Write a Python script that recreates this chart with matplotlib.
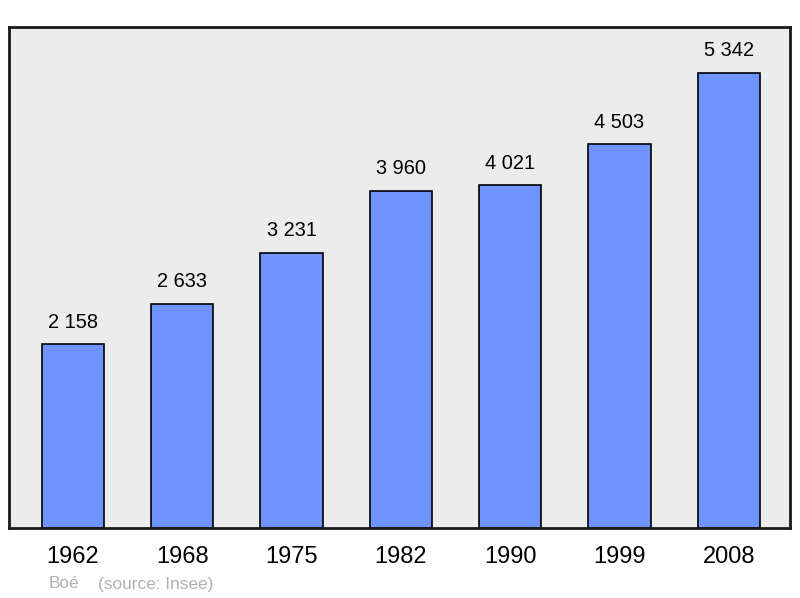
import matplotlib
matplotlib.use('Agg')
import matplotlib.pyplot as plt

years = ['1962', '1968', '1975', '1982', '1990', '1999', '2008']
population = [2158, 2633, 3231, 3960, 4021, 4503, 5342]
labels = ['2 158', '2 633', '3 231', '3 960', '4 021', '4 503', '5 342']

plt.rcParams['font.family'] = ['Liberation Sans', 'DejaVu Sans']

fig = plt.figure(figsize=(8, 5.98), dpi=100)
ax = fig.add_axes([0.01125, 0.117, 0.97625, 0.8378])
ax.set_facecolor('#ececec')

x = list(range(len(years)))
ax.bar(x, population, width=0.57, color='#7094ff', edgecolor='black', linewidth=1.2, zorder=2)
for xi, v, lab in zip(x, population, labels):
    ax.annotate(lab, (xi, v), xytext=(0, 9), textcoords='offset points',
                ha='center', va='bottom', fontsize=14.4, color='black')

ax.set_xlim(-0.585, 6.56)
ax.set_ylim(0, 5880)
ax.set_xticks(x)
ax.set_xticklabels(years, fontsize=17)
ax.tick_params(axis='x', length=0, pad=13)
ax.set_yticks([])
for s in ax.spines.values():
    s.set_linewidth(2)
    s.set_color('#1a1a1a')

fig.text(49 / 800, 1 - 584 / 598, 'Boé', fontsize=12.4, color='#b0b0b0', va='center', ha='left')
fig.text(98 / 800, 1 - 584 / 598, '(source: Insee)', fontsize=12.4, color='#b0b0b0', va='center', ha='left')

fig.savefig('out.png', dpi=100)
